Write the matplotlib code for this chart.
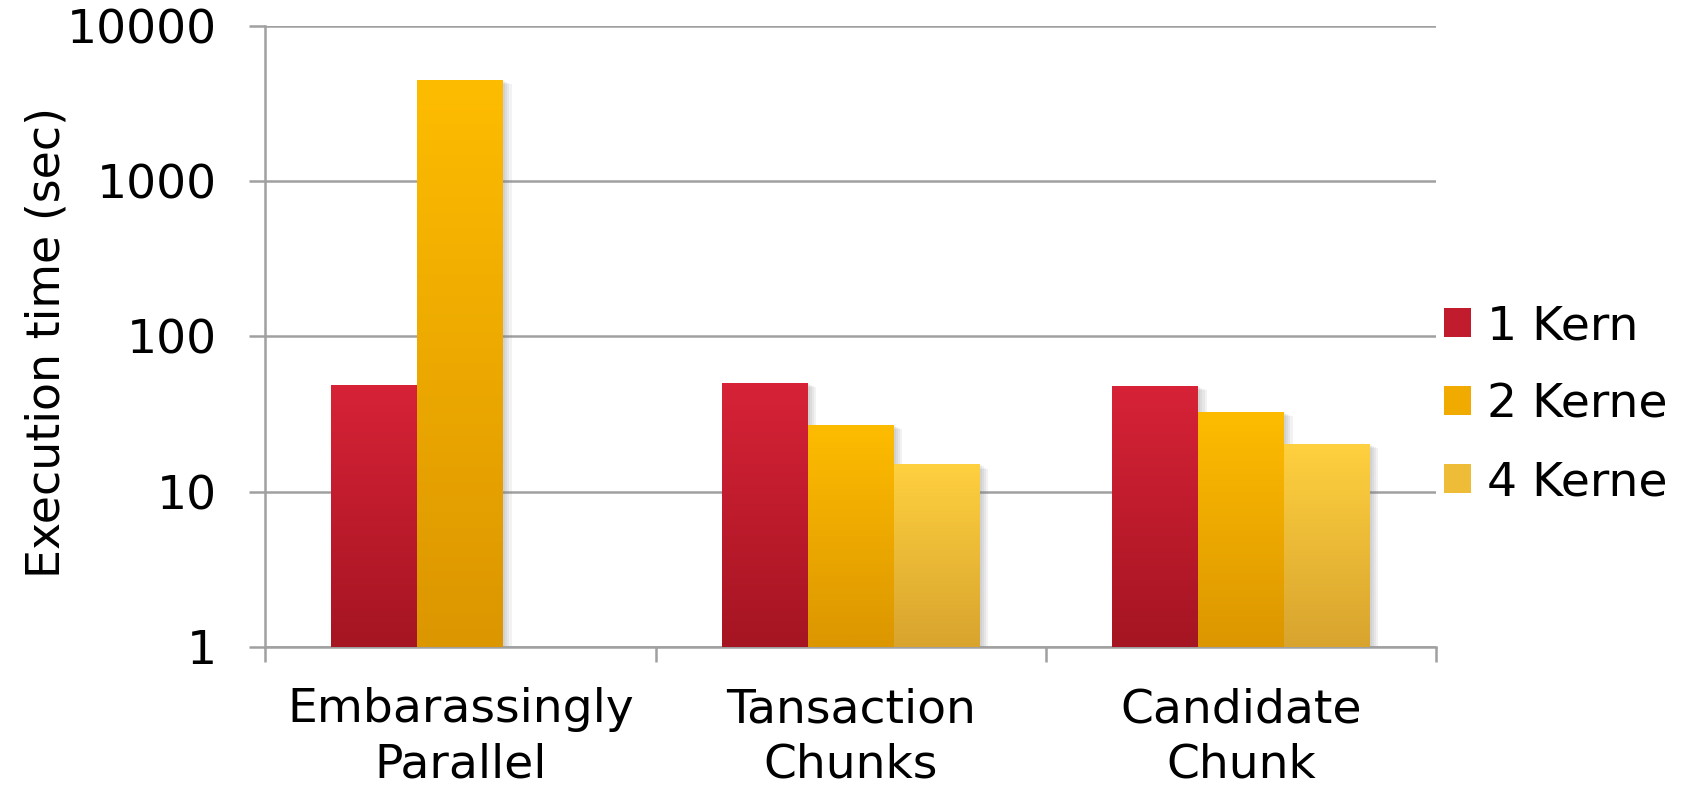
import numpy as np
import matplotlib
matplotlib.use("Agg")
import matplotlib.pyplot as plt
import matplotlib.patheffects as pe
from matplotlib.colors import LinearSegmentedColormap
from matplotlib.patches import Rectangle

# execution times per method and number of cores
categories = ["Embarassingly\nParallel", "Tansaction\nChunks", "Candidate\nChunk"]
series = ["1 Kern", "2 Kerne", "4 Kerne"]
kern1 = [48, 49, 47]
kern2 = [4500, 26, 31.5]
kern4 = [None, 14, 19.2]

# (top colour, bottom colour) for each series
shades = [("#D72237", "#A51522"), ("#FEBC00", "#DC9600"), ("#FFD03F", "#D8A42E")]

plt.rcParams["font.family"] = "DejaVu Sans"
fig = plt.figure(figsize=(16.88, 7.88), dpi=100)
ax = fig.add_axes([0.157, 0.179, 0.694, 0.788])

ax.set_yscale("log")
ax.set_ylim(1, 10000)
ax.set_xlim(-0.5, 2.5)

x = np.arange(len(categories))
width = 0.22
# soft drop shadow: a few faint offset copies
shadow = [pe.SimplePatchShadow(offset=(o, -o * 0.5), shadow_rgbFace="#777777", alpha=0.09)
          for o in (1.5, 3, 4.5, 6)] + [pe.Normal()]

all_bars = []
for i, vals in enumerate([kern1, kern2, kern4]):
    top, bottom = shades[i]
    heights = [v if v is not None else 0 for v in vals]
    bars = ax.bar(x + (i - 1) * width, heights, width, bottom=1, color=top,
                  linewidth=0, zorder=2, path_effects=shadow)
    for b, v in zip(bars, vals):
        if v is not None:
            all_bars.append((b, top, bottom))
        else:
            b.set_visible(False)

ax.set_xlim(-0.5, 2.5)
ax.set_ylim(1, 10000)

# vertical gradient on each bar, laid out in axes space so it follows the bar on screen
to_axes = ax.transData + ax.transAxes.inverted()
grad = np.linspace(0, 1, 256).reshape(-1, 1)
for b, top, bottom in all_bars:
    cmap = LinearSegmentedColormap.from_list("g", [bottom, top])
    (ax0, ay0), (ax1, ay1) = to_axes.transform([(b.get_x(), b.get_y()),
                                                (b.get_x() + b.get_width(), b.get_y() + b.get_height())])
    im = ax.imshow(grad, cmap=cmap, origin="lower", aspect="auto", interpolation="bilinear",
                   extent=[ax0, ax1, ay0, ay1], transform=ax.transAxes, zorder=3)
    im.set_clip_path(b)

ax.set_xlim(-0.5, 2.5)
ax.set_ylim(1, 10000)

# axes styling
grid_col = "#A0A0A0"
ax.set_yticks([1, 10, 100, 1000, 10000])
ax.set_yticklabels(["1", "10", "100", "1000", "10000"])
ax.yaxis.set_minor_locator(plt.NullLocator())
ax.grid(axis="y", color=grid_col, linewidth=1.8, zorder=0)
ax.set_axisbelow(True)
for s in ["top", "right"]:
    ax.spines[s].set_visible(False)
for s in ["left", "bottom"]:
    ax.spines[s].set_color(grid_col)
    ax.spines[s].set_linewidth(1.8)
ax.tick_params(axis="y", length=11.5, width=1.8, color=grid_col, labelsize=34, pad=23)
ax.set_xticks([-0.5, 0.5, 1.5, 2.5])
ax.set_xticklabels([])
ax.tick_params(axis="x", length=11, width=1.8, color=grid_col)
ax.set_xticks(x, minor=True)
ax.set_xticklabels(categories, minor=True, fontsize=34, linespacing=1.3)
ax.tick_params(axis="x", which="minor", length=0, pad=29)

ax.set_ylabel("Execution time (sec)", fontsize=33)
ax.yaxis.set_label_coords(-0.167, 0.49)

handles = [Rectangle((0, 0), 1, 1, facecolor=c, edgecolor="none")
           for c in ("#C01C2D", "#F0AA00", "#EEBC36")]
ax.legend(handles, series, loc="center left", bbox_to_anchor=(1.0, 0.39), frameon=False,
          fontsize=34, handlelength=0.58, handleheight=0.58, handletextpad=0.35,
          labelspacing=0.7, borderaxespad=0.15, borderpad=0)

fig.savefig("out.png", dpi=100)
